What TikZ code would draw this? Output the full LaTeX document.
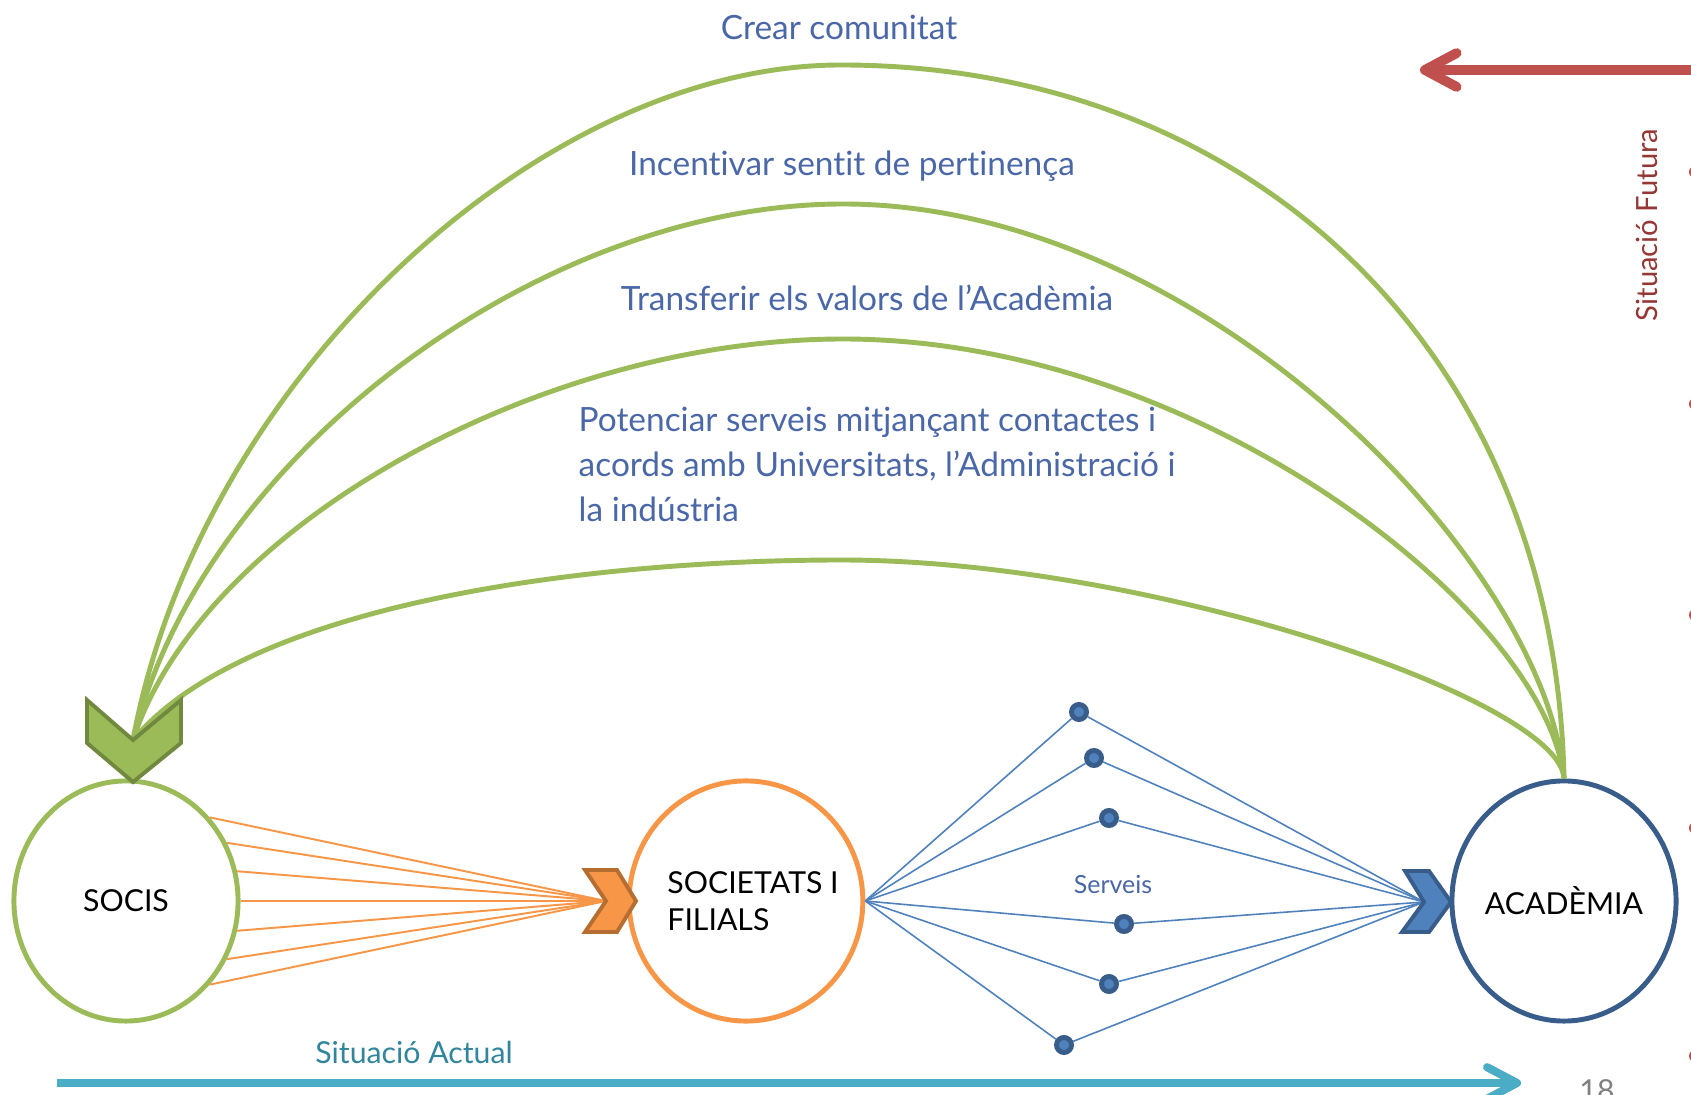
\documentclass[tikz,border=0pt]{standalone}
\usepackage{fontspec}
\setmainfont{Lato}[Ligatures=NoCommon]
\usetikzlibrary{arrows.meta, positioning, shapes.geometric}

\definecolor{verd}{HTML}{9BBB59}
\definecolor{verdfosc}{HTML}{71893F}
\definecolor{taronja}{HTML}{F79646}
\definecolor{taronjafosc}{HTML}{B66D31}
\definecolor{blau}{HTML}{4F81BD}
\definecolor{blaufosc}{HTML}{385D8A}
\definecolor{textblau}{RGB}{74,103,168}
\definecolor{vermell}{HTML}{C0504D}
\definecolor{granat}{HTML}{953735}
\definecolor{turquesa}{HTML}{4BACC6}
\definecolor{turquesafosc}{HTML}{31859C}

\tikzset{
  cercle/.style={ellipse, draw, line width=1.4pt, minimum width=2.24cm, minimum height=2.4cm,
    inner sep=-0.1cm, font=\fontsize{8.6}{10.6}\selectfont},
  punt/.style={circle, draw=blaufosc, fill=blau, line width=1.4pt, minimum size=0.15cm, inner sep=0pt},
  corba/.style={verd, line width=1.4pt},
  lema/.style={text=textblau, font=\fontsize{9.5}{12.8}\selectfont, inner sep=0pt},
  filtaronja/.style={taronja, line width=0.55pt},
  filblau/.style={blau, line width=0.45pt}
}

\begin{document}
\begin{tikzpicture}[x=0.01cm, y=-0.01cm]
\useasboundingbox (0,0) rectangle (1691,1095);
\fill[white] (0,0) rectangle (1691,1095);

% els tres blocs
\node[cercle, draw=verd] (socis) at (126,901) {SOCIS};
\node[cercle, draw=taronja, align=left] (soc) at (746,901) {\hspace*{0.14cm}SOCIETATS I\\\hspace*{0.14cm}FILIALS};
\node[cercle, draw=blaufosc] (acad) at (1564,901) {ACADÈMIA};

\coordinate (gnotch) at (133,740);
\coordinate (onotch) at (606,901);
\coordinate (bnotch) at (1424,902);

% serveis
\node[punt] (s1) at (1079,712) {};
\node[punt] (s2) at (1094,758) {};
\node[punt] (s3) at (1109,818) {};
\node[punt] (s4) at (1124,924) {};
\node[punt] (s5) at (1109,984) {};
\node[punt] (s6) at (1064,1045) {};

\draw[filtaronja] (socis.45) -- (onotch);
\draw[filtaronja] (socis.30) -- (onotch);
\draw[filtaronja] (socis.15) -- (onotch);
\draw[filtaronja] (socis.0) -- (onotch);
\draw[filtaronja] (socis.-15) -- (onotch);
\draw[filtaronja] (socis.-30) -- (onotch);
\draw[filtaronja] (socis.-45) -- (onotch);

\draw[filblau] (soc.east) -- (s1) -- (bnotch);
\draw[filblau] (soc.east) -- (s2) -- (bnotch);
\draw[filblau] (soc.east) -- (s3) -- (bnotch);
\draw[filblau] (soc.east) -- (s4) -- (bnotch);
\draw[filblau] (soc.east) -- (s5) -- (bnotch);
\draw[filblau] (soc.east) -- (s6) -- (bnotch);

% corbes de la situacio futura
\draw[corba] (gnotch) .. controls (200,380) and (540,65) .. (841,65)
  .. controls (1250,65) and (1555,350) .. (acad.north);
\draw[corba] (gnotch) .. controls (202,456) and (540,204) .. (843,204)
  .. controls (1200,204) and (1545,560) .. (acad.north);
\draw[corba] (gnotch) .. controls (202,527) and (540,339) .. (843,339)
  .. controls (1200,339) and (1545,612) .. (acad.north);
\draw[corba] (gnotch) .. controls (250,600) and (600,560) .. (841,560)
  .. controls (1150,560) and (1560,700) .. (acad.north);

% xevrons
\filldraw[fill=verd, draw=verdfosc, line width=1.1pt, shift={(gnotch)}]
  (-46,-40) -- (0,0) -- (48,-40) -- (48,3) -- (0,42) -- (-46,3) -- cycle;
\filldraw[fill=taronja, draw=taronjafosc, line width=1.1pt, shift={(onotch)}]
  (-21,-31) -- (11,-31) -- (30,0) -- (11,31) -- (-21,31) -- (0,0) -- cycle;
\filldraw[fill=blau, draw=blaufosc, line width=1.1pt, shift={(bnotch)}]
  (-19,-31) -- (5,-31) -- (27,0) -- (5,30) -- (-22,30) -- (0,0) -- cycle;

% textos
\node[lema, anchor=base] (t1) at (839,40) {Crear comunitat};
\node[lema, anchor=base] (t2) at (852,176) {Incentivar sentit de pertinença};
\node[lema, anchor=base] (t3) at (867,311) {Transferir els valors de l’Acadèmia};
\node[lema, anchor=north west, align=left] (t4) at (578,406)
  {Potenciar serveis mitjançant contactes i\\acords amb Universitats, l’Administració i\\la indústria};
\node[anchor=base, text=textblau, font=\fontsize{7.1}{8}\selectfont] (serveis) at (1113,893) {Serveis};

% fletxes
\coordinate (a0) at (57,1083);
\coordinate (a1) at (1521,1083);
\draw[turquesa, line width=2.3pt, -{Straight Barb[round, length=8.5pt, width=9pt]}] (a0) -- (a1);
\node[anchor=base, text=turquesafosc, font=\fontsize{8.6}{10}\selectfont] (actual) at (414,1063) {Situació Actual};

\coordinate (f0) at (1700,70);
\coordinate (f1) at (1420,70);
\draw[vermell, line width=2.8pt, -{Straight Barb[round, length=9pt, width=9.6pt]}] (f0) -- (f1);
\node[anchor=base, rotate=90, text=granat, font=\fontsize{8.3}{10}\selectfont] (futura) at (1657,225) {Situació Futura};

\fill[vermell] (1695,172) circle[radius=0.06cm];
\fill[vermell] (1695,404) circle[radius=0.06cm];
\fill[vermell] (1695,615) circle[radius=0.06cm];
\fill[vermell] (1695,828) circle[radius=0.06cm];
\fill[vermell] (1695,1056) circle[radius=0.06cm];

\node[anchor=base, text=gray, font=\fontsize{8.6}{10}\selectfont] (pag) at (1597,1101) {18};
\end{tikzpicture}
\end{document}
